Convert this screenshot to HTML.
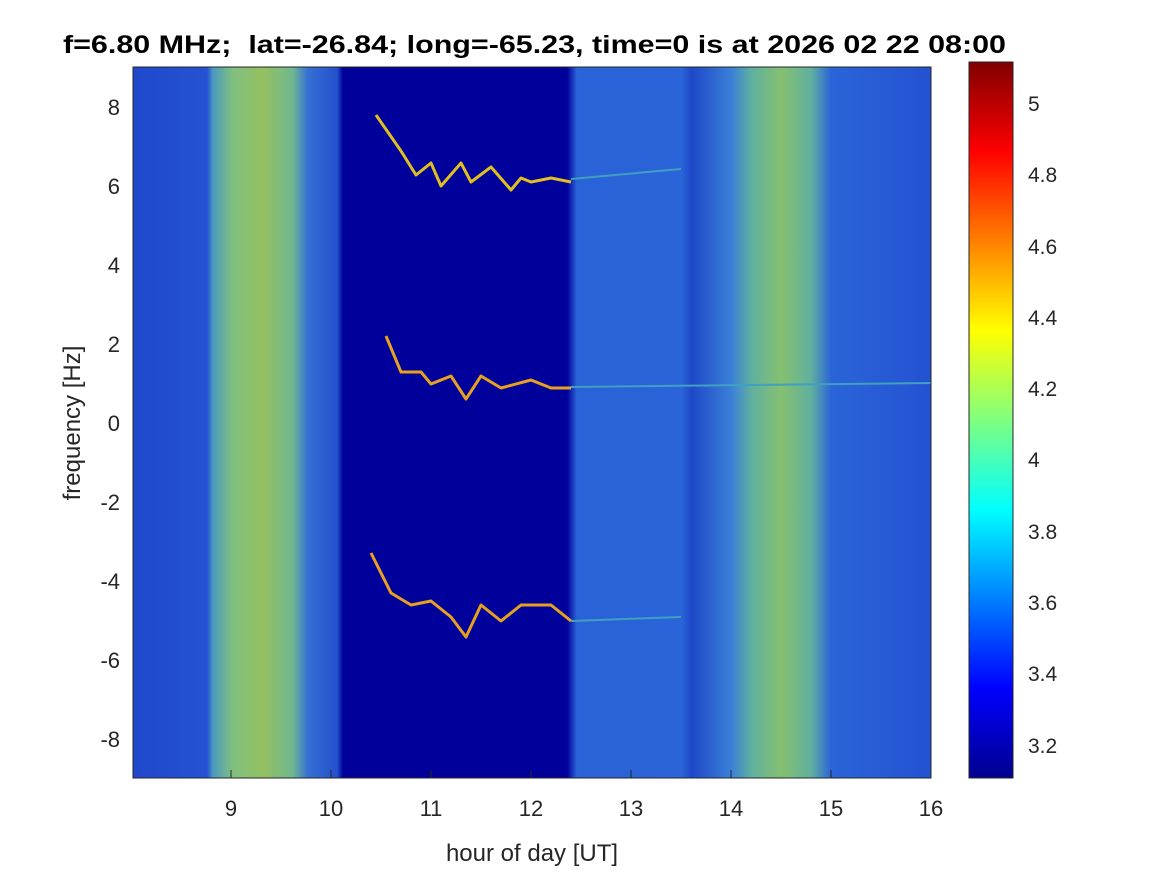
<!DOCTYPE html>
<html><head><meta charset="utf-8"><style>
html,body{margin:0;padding:0;background:#fff;}
svg text{font-family:"Liberation Sans",sans-serif;fill:#262626;}
</style></head><body>
<svg width="1167" height="875" xmlns="http://www.w3.org/2000/svg">
<defs>
<linearGradient id="bg" x1="0" x2="1" y1="0" y2="0">
<stop offset="0" stop-color="#2048cc"/>
<stop offset="0.093" stop-color="#2452d2"/>
<stop offset="0.1" stop-color="#4a9ac0"/>
<stop offset="0.125" stop-color="#80c080"/>
<stop offset="0.163" stop-color="#95c060"/>
<stop offset="0.2" stop-color="#70b890"/>
<stop offset="0.219" stop-color="#3570d4"/>
<stop offset="0.256" stop-color="#2450cc"/>
<stop offset="0.263" stop-color="#00009a"/>
<stop offset="0.544" stop-color="#00009a"/>
<stop offset="0.556" stop-color="#2a62d8"/>
<stop offset="0.6875" stop-color="#2a64d8"/>
<stop offset="0.7" stop-color="#1f48c8"/>
<stop offset="0.75" stop-color="#3a80d8"/>
<stop offset="0.775" stop-color="#60b0a0"/>
<stop offset="0.8125" stop-color="#85c070"/>
<stop offset="0.85" stop-color="#60b0a0"/>
<stop offset="0.875" stop-color="#2a64d8"/>
<stop offset="1" stop-color="#2452d2"/>
</linearGradient>
<linearGradient id="jet" x1="0" x2="0" y1="1" y2="0">
<stop offset="0" stop-color="#00008f"/>
<stop offset="0.125" stop-color="#0000ff"/>
<stop offset="0.375" stop-color="#00ffff"/>
<stop offset="0.625" stop-color="#ffff00"/>
<stop offset="0.875" stop-color="#ff0000"/>
<stop offset="1" stop-color="#800000"/>
</linearGradient>
</defs>
<rect x="133" y="67" width="798" height="711" fill="url(#bg)"/>
<g fill="none" stroke-linejoin="round">
<polyline stroke="#40a0c0" stroke-width="2" points="571,179 681,169"/>
<polyline stroke="#40a0c0" stroke-width="2" points="571,387 931,383"/>
<polyline stroke="#40a0c0" stroke-width="2" points="571,621 681,617"/>
<polyline stroke="#e0c020" stroke-width="3" points="376,115 401,151 416,175 431,163 441,186 461,163 471,182 491,167 511,190 521,178 531,182 551,178 571,182"/>
<polyline stroke="#e8a020" stroke-width="3" points="386,336 401,372 421,372 431,384 451,376 466,399 481,376 501,388 531,380 551,388 571,388"/>
<polyline stroke="#e8a020" stroke-width="3" points="371,553 391,593 411,605 431,601 451,617 466,637 481,605 501,621 521,605 551,605 571,621"/>
</g>
<rect x="133" y="67" width="798" height="711" fill="none" stroke="#262626" stroke-width="1"/>
<g stroke="#262626" stroke-width="1">
<line x1="231" y1="778" x2="231" y2="770"/><line x1="331" y1="778" x2="331" y2="770"/><line x1="431" y1="778" x2="431" y2="770"/><line x1="531" y1="778" x2="531" y2="770"/><line x1="631" y1="778" x2="631" y2="770"/><line x1="731" y1="778" x2="731" y2="770"/><line x1="831" y1="778" x2="831" y2="770"/>
</g>
<g font-size="22" text-anchor="middle">
<text x="231" y="816">9</text><text x="331" y="816">10</text><text x="431" y="816">11</text><text x="531" y="816">12</text><text x="631" y="816">13</text><text x="731" y="816">14</text><text x="831" y="816">15</text><text x="931" y="816">16</text>
</g>
<g font-size="22" text-anchor="end">
<text x="120" y="115">8</text><text x="120" y="194">6</text><text x="120" y="273">4</text><text x="120" y="352">2</text><text x="120" y="431">0</text><text x="120" y="510">-2</text><text x="120" y="589">-4</text><text x="120" y="668">-6</text><text x="120" y="747">-8</text>
</g>
<text x="532" y="861" font-size="24" text-anchor="middle">hour of day [UT]</text>
<text transform="translate(80,423) rotate(-90)" font-size="24" text-anchor="middle">frequency [Hz]</text>
<text x="63" y="53" font-size="25" font-weight="bold" textLength="943" lengthAdjust="spacingAndGlyphs" style="fill:#000">f=6.80 MHz;&#160; lat=-26.84; long=-65.23, time=0 is at 2026 02 22 08:00</text>
<rect x="969" y="62" width="44" height="716" fill="url(#jet)" stroke="#262626" stroke-width="1"/>
<g font-size="21">
<text x="1028" y="111">5</text><text x="1028" y="182">4.8</text><text x="1028" y="254">4.6</text><text x="1028" y="325">4.4</text><text x="1028" y="396">4.2</text><text x="1028" y="467">4</text><text x="1028" y="539">3.8</text><text x="1028" y="610">3.6</text><text x="1028" y="681">3.4</text><text x="1028" y="753">3.2</text>
</g>
</svg>
</body></html>
